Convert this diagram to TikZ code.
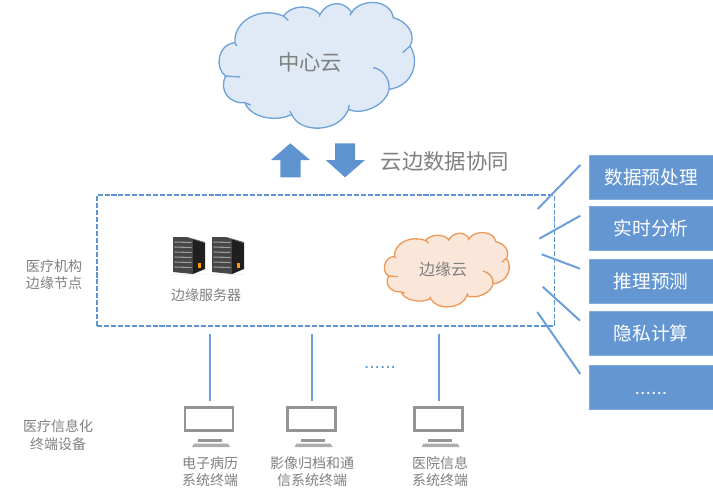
\documentclass[tikz,border=0pt]{standalone}
\usepackage{fontspec}
\setmainfont{Noto Sans CJK SC}
\newfontfamily\latinf{Liberation Sans}
\usetikzlibrary{shadows}
\definecolor{bluebox}{HTML}{6496D2}
\definecolor{bluearrow}{HTML}{5F93D0}
\definecolor{bluestub}{HTML}{6C9FDA}
\definecolor{bluedash}{HTML}{5F94D6}
\definecolor{cloudfill}{HTML}{DFEAF6}
\definecolor{cloudline}{HTML}{6FA3D8}
\definecolor{edgefill}{HTML}{FBE7DA}
\definecolor{edgeline}{HTML}{EC9A5C}
\definecolor{txt}{HTML}{7F7F7F}
\newcommand{\cloudshape}{%
 (45,125) .. controls (40,60) and (120,15) .. (190,45)
 .. controls (215,12) and (270,8) .. (300,40)
 .. controls (320,3) and (370,-6) .. (395,35)
 .. controls (420,-8) and (510,-8) .. (520,50)
 .. controls (560,60) and (590,100) .. (570,135)
 .. controls (600,180) and (580,255) .. (507,265)
 .. controls (500,310) and (430,345) .. (385,325)
 .. controls (360,395) and (240,400) .. (215,340)
 .. controls (170,365) and (90,350) .. (75,305)
 .. controls (30,310) and (-5,270) .. (17,225)
 .. controls (-15,205) and (-10,130) .. (45,125) -- cycle}
\newcommand{\cloudhooks}{%
 (460,200) .. controls (490,205) and (510,235) .. (507,265)
 (570,135) -- (548,155)
 (17,225) -- (60,228)
 (190,45) -- (205,58)
 (300,40) -- (298,47)
 (395,35) -- (390,43)
 (75,305) -- (92,312)
 (215,340) -- (210,330)
 (385,325) -- (388,312)
 (45,125) -- (50,135)}
\newcommand{\serverpic}[2]{%
 \begin{scope}[shift={(#1,#2)}]
  \fill[black!5] (-1,37) rectangle (33,38);
  \fill[black!72] (0,0) -- (14,0) -- (20,2) -- (20,37) -- (0,35) -- cycle;
  \fill[black!88] (20,2) -- (32,6) -- (32,32) -- (20,37) -- cycle;
  \fill[black!60] (14,0) -- (32,5) -- (32,6) -- (20,2) -- cycle;
  \foreach \yy in {5,10,15,20,25,30}
   \draw[black!38,line width=0.8pt] (1.5,\yy) -- (18.5,\yy+0.5);
  \fill[orange!80!yellow] (25,26) rectangle (28,31);
 \end{scope}}
\newcommand{\monitorpic}[3]{%
 \node[monitorscreen] (#3) at (#1,#2) {};
 \fill[black!42] (#1-11,#2+19.5) rectangle (#1+13,#2+23);
 \fill[black!32] (#1-15,#2+24.5) -- (#1+19,#2+24.5) -- (#1+21,#2+28) -- (#1-17,#2+28) -- cycle;}
\tikzset{
 flowbox/.style={fill=bluebox,draw=bluebox!80!white,line width=0.5pt,minimum width=93pt,minimum height=33pt,inner sep=0pt,text=white,font=\fontsize{14pt}{16pt}\selectfont},
 lbl/.style={text=txt,align=center,inner sep=0pt,font=\fontsize{10.5pt}{13.2pt}\selectfont},
 stub/.style={draw=bluestub,line width=1.5pt},
 drop/.style={draw=bluestub,line width=1pt},
 bigarrow/.style={fill=bluearrow,draw=none},
 monitorscreen/.style={draw=black!42,line width=2.2pt,fill=white,minimum width=36pt,minimum height=17.5pt,inner sep=0pt,drop shadow={shadow xshift=-1pt,shadow yshift=-1.2pt,fill=black!22,opacity=1}}
}
\begin{document}
\begin{tikzpicture}[x=0.75pt,y=-0.75pt]
\useasboundingbox (0,0) rectangle (713,496);
% central cloud
\begin{scope}[shift={(220,1)},xscale=1/3,yscale=1/3]
 \fill[cloudfill] \cloudshape;
 \draw[cloudline,line width=1pt] \cloudshape \cloudhooks;
\end{scope}
\node[text=txt,inner sep=0pt,font=\fontsize{16pt}{18pt}\selectfont] (central) at (310,62) {中心云};
% arrows
\fill[bigarrow] (290.3,143.3) -- (310,160) -- (300.7,160) -- (300.7,177.3) -- (280.3,177.3) -- (280.3,160) -- (271,160) -- cycle;
\fill[bigarrow] (335,143.3) -- (355,143.3) -- (355,160) -- (365,160) -- (345,177.3) -- (325.7,160) -- (335,160) -- cycle;
\node[text=txt,inner sep=0pt,font=\fontsize{16pt}{18pt}\selectfont] (sync) at (444.8,161) {云边数据协同};
% dashed frame
\node[draw=bluedash,dash pattern=on 3.8pt off 1.4pt,line width=1.1pt,minimum width=343pt,minimum height=98.2pt,inner sep=0pt] (frame) at (325.7,260.3) {};
% left labels
\node[lbl] (edgeL) at (54,274.7) {医疗机构\\边缘节点};
\node[lbl] (termL) at (58,435.3) {医疗信息化\\终端设备};
% servers
\serverpic{173}{237}
\serverpic{212}{237}
\node[lbl] (srv) at (206,295) {边缘服务器};
% edge cloud
\begin{scope}[shift={(385,231.7)},xscale=0.213,yscale=0.197]
 \fill[edgefill] \cloudshape;
 \draw[edgeline,line width=1pt] \cloudshape \cloudhooks;
\end{scope}
\node[text=txt,inner sep=0pt,font=\fontsize{12pt}{14pt}\selectfont] (edgecloud) at (443,269) {边缘云};
% right boxes
\node[flowbox] (b1) at (651,177.5) {数据预处理};
\node[flowbox] (b2) at (651,228.5) {实时分析};
\node[flowbox] (b3) at (651,281.5) {推理预测};
\node[flowbox] (b4) at (651,333.5) {隐私计算};
\node[flowbox,minimum height=33.4pt] (b5) at (651,387.2) {};
\node[text=white,inner sep=0pt,font=\latinf\fontsize{14.8pt}{16pt}\selectfont] (b5t) at (651,393) {......};
% slanted stubs
\coordinate (s1a) at (537.7,209); \coordinate (s1b) at (580.3,165);
\coordinate (s2a) at (539.3,238.7); \coordinate (s2b) at (580.3,215.7);
\coordinate (s3a) at (541.7,254.3); \coordinate (s3b) at (580,268.7);
\coordinate (s4a) at (542.7,286.7); \coordinate (s4b) at (580,320.7);
\coordinate (s5a) at (537.3,312); \coordinate (s5b) at (580.3,374);
\foreach \n in {1,...,5} \draw[stub] (s\n a) -- (s\n b);
% monitors
\monitorpic{209}{419}{m1}
\monitorpic{311.5}{419}{m2}
\monitorpic{438.5}{419}{m3}
\coordinate (d1) at (210,334); \coordinate (d2) at (312,334); \coordinate (d3) at (439,334);
\coordinate (e1) at (210,401); \coordinate (e2) at (312,401); \coordinate (e3) at (439,401);
\foreach \n in {1,2,3} \draw[drop] (d\n) -- (e\n);
\node[text=bluedash,inner sep=0pt,font=\latinf\fontsize{14.3pt}{16pt}\selectfont] (dots) at (380,367) {......};
\node[lbl] (t1) at (210,471.5) {电子病历\\系统终端};
\node[lbl] (t2) at (312,471.5) {影像归档和通\\信系统终端};
\node[lbl] (t3) at (440,471.5) {医院信息\\系统终端};
\end{tikzpicture}
\end{document}
